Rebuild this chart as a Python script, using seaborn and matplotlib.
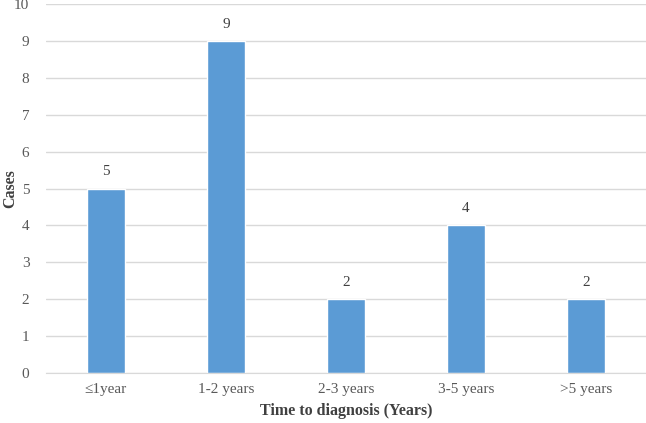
import matplotlib

matplotlib.use("Agg")
import matplotlib.pyplot as plt
import pandas as pd
import seaborn as sns

categories = ["≤1year", "1-2 years", "2-3 years", "3-5 years", ">5 years"]
cases = [5, 9, 2, 4, 2]
y_ticks = list(range(0, 11))

sns.set_style("white")
plt.rcParams["font.family"] = ["Liberation Serif", "DejaVu Serif"]

df = pd.DataFrame({"period": categories, "cases": cases})

fig = plt.figure(figsize=(6.46, 4.23), dpi=100)
ax = fig.add_axes([0.0712, 0.1182, 0.9288, 0.8723])
ax.set_axisbelow(True)
ax.yaxis.grid(True, color="#D9D9D9", linewidth=1.0)
sns.barplot(data=df, x="period", y="cases", color="#5B9BD5", width=0.31,
            saturation=1, ax=ax)

for i, v in enumerate(cases):
    ax.text(i, v + 0.28, str(v), ha="center", va="bottom", fontsize=11, color="#404040")

ax.set_ylim(0, 10)
ax.set_xlim(-0.5, len(categories) - 0.5)
ax.set_yticks(y_ticks)
ax.tick_params(axis="both", length=0, labelsize=11, labelcolor="#595959")
ax.tick_params(axis="y", pad=12)
ax.tick_params(axis="x", pad=7)
for side in ["top", "right", "left"]:
    ax.spines[side].set_visible(False)
ax.spines["bottom"].set_color("#D9D9D9")
ax.set_xlabel("Time to diagnosis (Years)", fontsize=11.5, fontweight="bold", color="#404040", labelpad=5)
ax.set_ylabel("Cases", fontsize=11.5, fontweight="bold", color="#404040")
ax.yaxis.set_label_coords(-0.047, 0.5)

fig.savefig("out.png", dpi=100)
